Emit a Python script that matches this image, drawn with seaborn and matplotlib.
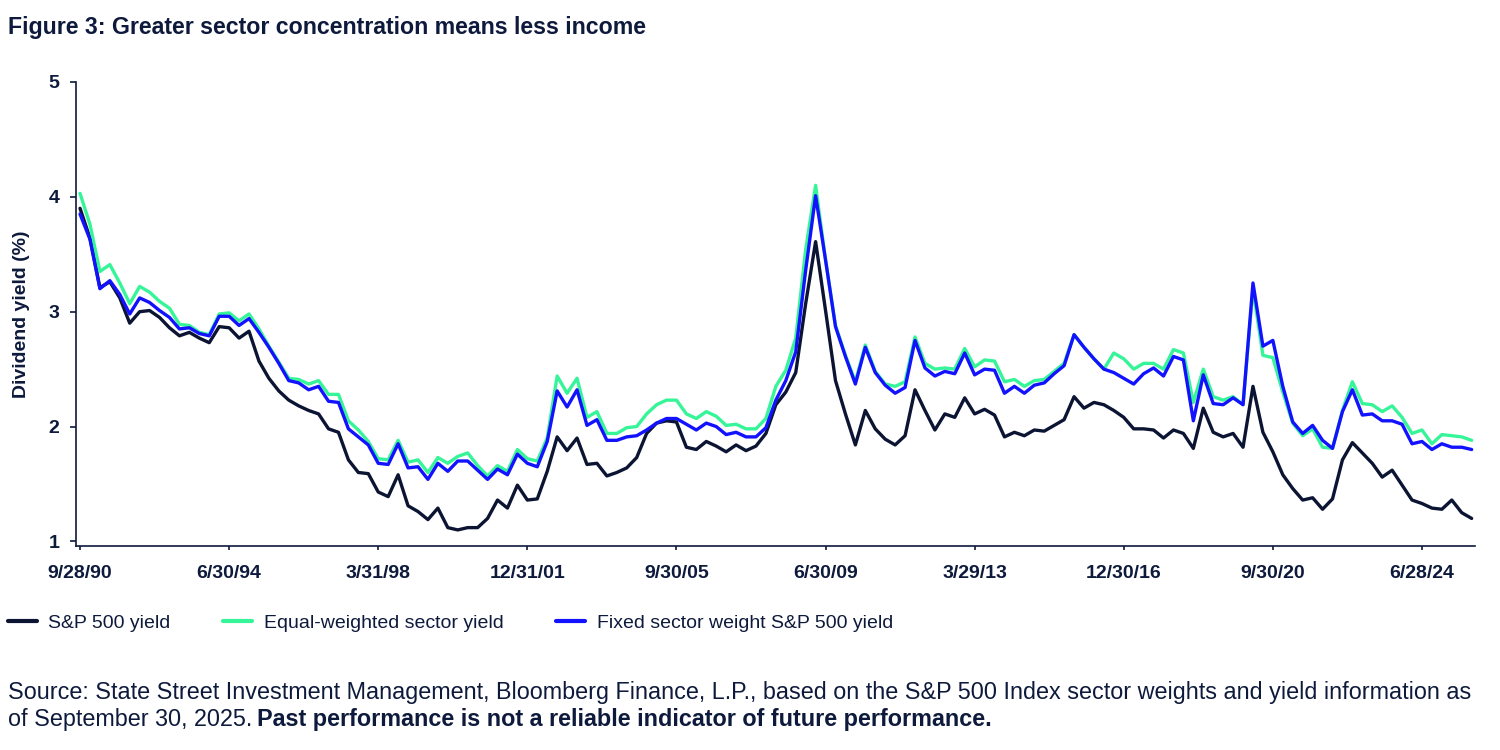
import pandas as pd
import matplotlib
matplotlib.use("Agg")
import matplotlib.pyplot as plt
import seaborn as sns

# Fechas trimestrales (cierre hábil de trimestre)
fechas = pd.date_range("1990-09-01", periods=141, freq="BQE")

# Rendimiento por dividendo (%)
sp500_yield = [
    3.90, 3.64, 3.21, 3.26, 3.12, 2.90, 3.00, 3.01, 2.95, 2.86,
    2.79, 2.82, 2.77, 2.73, 2.87, 2.86, 2.77, 2.83, 2.57, 2.42,
    2.31, 2.23, 2.18, 2.14, 2.11, 1.98, 1.95, 1.71, 1.60, 1.59,
    1.43, 1.39, 1.58, 1.31, 1.26, 1.19, 1.29, 1.12, 1.10, 1.12,
    1.12, 1.20, 1.36, 1.29, 1.49, 1.36, 1.37, 1.61, 1.91, 1.79,
    1.90, 1.67, 1.68, 1.57, 1.60, 1.64, 1.73, 1.94, 2.03, 2.05,
    2.04, 1.82, 1.80, 1.87, 1.83, 1.78, 1.84, 1.79, 1.83, 1.94,
    2.19, 2.30, 2.47, 3.07, 3.61, 3.01, 2.40, 2.11, 1.84, 2.14,
    1.98, 1.89, 1.84, 1.92, 2.32, 2.14, 1.97, 2.11, 2.08, 2.25,
    2.11, 2.15, 2.10, 1.91, 1.95, 1.92, 1.97, 1.96, 2.01, 2.06,
    2.26, 2.16, 2.21, 2.19, 2.14, 2.08, 1.98, 1.98, 1.97, 1.90,
    1.97, 1.94, 1.81, 2.16, 1.95, 1.91, 1.94, 1.82, 2.35, 1.95,
    1.78, 1.58, 1.46, 1.36, 1.38, 1.28, 1.37, 1.71, 1.86, 1.77,
    1.68, 1.56, 1.62, 1.49, 1.36, 1.33, 1.29, 1.28, 1.36, 1.25,
    1.20,
]
equal_weight_yield = [
    4.03, 3.76, 3.35, 3.41, 3.25, 3.07, 3.22, 3.17, 3.09, 3.03,
    2.89, 2.88, 2.82, 2.80, 2.98, 2.99, 2.92, 2.98, 2.85, 2.70,
    2.56, 2.42, 2.41, 2.37, 2.40, 2.28, 2.28, 2.05, 1.97, 1.87,
    1.72, 1.71, 1.88, 1.69, 1.71, 1.60, 1.73, 1.68, 1.74, 1.77,
    1.66, 1.57, 1.66, 1.61, 1.80, 1.72, 1.70, 1.90, 2.44, 2.29,
    2.42, 2.08, 2.13, 1.94, 1.94, 1.99, 2.00, 2.11, 2.19, 2.23,
    2.23, 2.11, 2.07, 2.13, 2.09, 2.01, 2.02, 1.98, 1.98, 2.07,
    2.35, 2.49, 2.77, 3.54, 4.10, 3.45, 2.88, 2.62, 2.39, 2.71,
    2.48, 2.37, 2.35, 2.39, 2.78, 2.55, 2.50, 2.51, 2.50, 2.68,
    2.52, 2.58, 2.57, 2.39, 2.41, 2.35, 2.40, 2.41, 2.48, 2.55,
    2.80, 2.69, 2.59, 2.50, 2.64, 2.59, 2.50, 2.55, 2.55, 2.50,
    2.67, 2.64, 2.21, 2.50, 2.26, 2.23, 2.26, 2.19, 3.20, 2.62,
    2.60, 2.30, 2.03, 1.92, 1.98, 1.82, 1.81, 2.14, 2.39, 2.20,
    2.19, 2.13, 2.18, 2.08, 1.94, 1.97, 1.85, 1.93, 1.92, 1.91,
    1.88,
]
fixed_weight_yield = [
    3.85, 3.63, 3.20, 3.27, 3.15, 2.98, 3.12, 3.08, 3.01, 2.95,
    2.85, 2.86, 2.81, 2.79, 2.96, 2.96, 2.88, 2.94, 2.82, 2.69,
    2.55, 2.40, 2.38, 2.32, 2.35, 2.22, 2.21, 1.98, 1.91, 1.84,
    1.68, 1.67, 1.85, 1.64, 1.65, 1.54, 1.68, 1.61, 1.70, 1.70,
    1.62, 1.54, 1.63, 1.58, 1.76, 1.68, 1.65, 1.87, 2.31, 2.17,
    2.32, 2.01, 2.06, 1.88, 1.88, 1.91, 1.92, 1.97, 2.03, 2.07,
    2.07, 2.02, 1.97, 2.03, 2.00, 1.93, 1.95, 1.91, 1.91, 1.99,
    2.23, 2.40, 2.65, 3.36, 4.01, 3.45, 2.87, 2.61, 2.37, 2.69,
    2.47, 2.36, 2.29, 2.34, 2.75, 2.51, 2.44, 2.48, 2.46, 2.64,
    2.45, 2.50, 2.49, 2.29, 2.35, 2.29, 2.36, 2.38, 2.46, 2.53,
    2.80, 2.69, 2.59, 2.50, 2.47, 2.42, 2.37, 2.46, 2.51, 2.44,
    2.61, 2.58, 2.05, 2.45, 2.20, 2.19, 2.25, 2.19, 3.25, 2.70,
    2.75, 2.35, 2.04, 1.94, 2.01, 1.88, 1.81, 2.13, 2.32, 2.10,
    2.11, 2.05, 2.05, 2.02, 1.85, 1.87, 1.80, 1.85, 1.82, 1.82,
    1.80,
]

series = ["S&P 500 yield", "Equal-weighted sector yield",
          "Fixed sector weight S&P 500 yield"]
colores = ["#0b1432", "#36f598", "#1212ff"]
texto = "#0e1a3c"

# Formato largo para seaborn
trimestre = list(range(len(fechas)))
df = pd.concat([
    pd.DataFrame({"q": trimestre, "yield": vals, "serie": nombre})
    for nombre, vals in zip(series, [sp500_yield, equal_weight_yield, fixed_weight_yield])
])

sns.set_theme(style="white")
plt.rcParams["font.family"] = ["Liberation Sans", "DejaVu Sans"]

fig = plt.figure(figsize=(15, 7.5), dpi=100)
ax = fig.add_axes([0.0507, 0.272, 0.9324, 0.6187])

sns.lineplot(data=df, x="q", y="yield", hue="serie", hue_order=series,
             palette=colores, linewidth=2.4, ax=ax, legend=True)

ax.set_xlim(-0.4, 140.3)
ax.set_ylim(0.96, 5.0)
ax.set_yticks([1, 2, 3, 4, 5])

pos_ticks = trimestre[::15]
etiquetas = [f"{d.month}/{d.day}/{d:%y}" for d in fechas[::15]]
ax.set_xticks(pos_ticks)
ax.set_xticklabels(etiquetas)

for lado in ["top", "right"]:
    ax.spines[lado].set_visible(False)
for lado in ["left", "bottom"]:
    ax.spines[lado].set_color(texto)
    ax.spines[lado].set_linewidth(1.2)

ax.tick_params(axis="y", length=4, width=1.2, color=texto, pad=8,
               labelsize=14, labelcolor=texto, left=True)
ax.tick_params(axis="x", length=3, width=1.2, color=texto, pad=11,
               labelsize=14, labelcolor=texto, bottom=True)
for lab in ax.get_xticklabels() + ax.get_yticklabels():
    lab.set_fontweight("bold")

ax.set_xlabel("")
ax.set_ylabel("Dividend yield (%)", fontsize=14, fontweight="bold",
              color=texto, labelpad=13)
ax.grid(False)

handles, labels = ax.get_legend_handles_labels()
ax.legend(handles, labels, loc="center left", bbox_to_anchor=(0.005, 0.169),
          bbox_transform=fig.transFigure, ncol=3, frameon=False, fontsize=14,
          borderpad=0, borderaxespad=0, handlelength=1.5, handletextpad=0.6,
          columnspacing=2.7, labelcolor=texto)
for linea in ax.get_legend().get_lines():
    linea.set_linewidth(3)

fig.text(0.0053, 0.9627, "Figure 3: Greater sector concentration means less income",
         fontsize=16.7, fontweight="bold", color=texto, va="center", ha="left")

tam_fuente = 16.8
fig.text(0.0053, 0.0773,
         "Source: State Street Investment Management, Bloomberg Finance, L.P., based on the "
         "S&P 500 Index sector weights and yield information as",
         fontsize=tam_fuente, color=texto, va="center", ha="left")
t2 = fig.text(0.0053, 0.0413, "of September 30, 2025.", fontsize=tam_fuente,
              color=texto, va="center", ha="left")
fig.canvas.draw()
bb = t2.get_window_extent(renderer=fig.canvas.get_renderer())
x_fin = fig.transFigure.inverted().transform((bb.x1, bb.y0))[0]
fig.text(x_fin + 0.003, 0.0413, "Past performance is not a reliable indicator of future performance.",
         fontsize=tam_fuente, fontweight="bold", color=texto, va="center", ha="left")

fig.savefig("out.png", dpi=100, facecolor="white")
